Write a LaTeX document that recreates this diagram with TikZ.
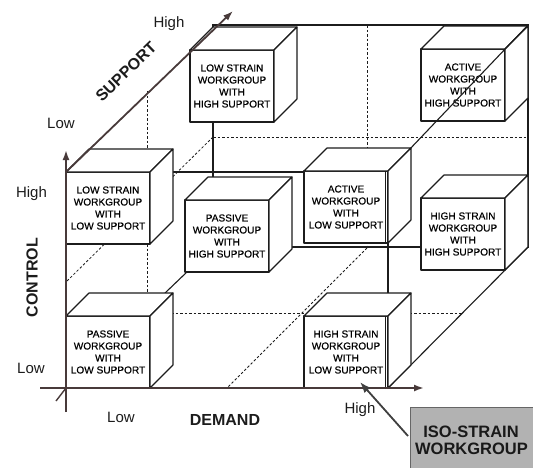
\documentclass[tikz,border=0pt]{standalone}
\usepackage{fontspec}
\setmainfont{Liberation Sans}
\newfontfamily\boxfont[FakeBold=0.5]{Liberation Sans}
\usetikzlibrary{arrows.meta,calc}
\definecolor{axiscol}{RGB}{72,58,58}
\definecolor{linecol}{RGB}{28,28,28}
\definecolor{isofill}{RGB}{178,178,178}
\newcommand\wgcube[4]{%
  \node[wgface, anchor=north west] (#1) at (#2,#3) {#4};
  \path[wgline, fill=white] (#1.north west) -- ++(23,-23) -- ($(#1.north east)+(23,-23)$) -- (#1.north east) -- cycle;
  \path[wgline, fill=white] (#1.north east) -- ++(23,-23) -- ($(#1.south east)+(23,-23)$) -- (#1.south east) -- cycle;
}
\begin{document}
\begin{tikzpicture}[x=1pt,y=-1pt,
  wgline/.style={draw=linecol, line width=1.1pt, line join=round},
  wgface/.style={wgline, fill=white, minimum width=84pt, minimum height=72pt,
    inner sep=0pt, outer sep=0pt, align=center,
    font=\boxfont\fontsize{10.1}{12}\selectfont, text=black},
  skel/.style={draw=linecol, line width=1.1pt},
  gridl/.style={draw=linecol, line width=0.8pt, dash pattern=on 2.5pt off 2pt},
  axis/.style={draw=axiscol, line width=1.8pt, -{Latex[length=10pt,width=7pt]}},
  ticklbl/.style={font=\fontsize{15}{18}\selectfont, anchor=base, text=linecol, inner sep=0pt},
  axlbl/.style={font=\fontsize{16}{19}\selectfont\bfseries, text=linecol, inner sep=0pt},
]
\clip (0,0) rectangle (533,467);
% cube corners
\coordinate (FTL) at (66,172);
\coordinate (FTR) at (388,172);
\coordinate (FBL) at (66,388);
\coordinate (FBR) at (388,388);
\coordinate (BTL) at (213,25);
\coordinate (BTR) at (528,25);
\coordinate (BBL) at (213,247);
\coordinate (BBR) at (528,247);
% skeleton
\draw[skel] (BTL) rectangle (BBR);
\draw[skel] (FTL) -- (FTR) -- (FBR);
\draw[skel] (FBL) -- (BBL);
\draw[skel] (FBR) -- (BBR);
% mid grid lines
\draw[gridl] (367,25) -- (367,248);
\draw[gridl] (213,137) -- (528,137);
\draw[gridl] (147,91) -- (147,310);
\draw[gridl] (213,137) -- (66,282);
\draw[gridl] (144,313) -- (463,313);
\draw[gridl] (367,248) -- (227,388);
% back boxes
\wgcube{lshs}{190}{50}{LOW STRAIN\\WORKGROUP\\WITH\\HIGH SUPPORT}
\wgcube{ahs}{421}{49}{ACTIVE\\WORKGROUP\\WITH\\HIGH SUPPORT}
\wgcube{phs}{185}{200}{PASSIVE\\WORKGROUP\\WITH\\HIGH SUPPORT}
\wgcube{hshs}{421}{198}{HIGH STRAIN\\WORKGROUP\\WITH\\HIGH SUPPORT}
% top-right edge, drawn over the back box
\draw[skel] (BTR) -- (FTR);
% front boxes
\wgcube{lsls}{66}{172}{LOW STRAIN\\WORKGROUP\\WITH\\LOW SUPPORT}
\wgcube{psls}{66}{316}{PASSIVE\\WORKGROUP\\WITH\\LOW SUPPORT}
\wgcube{hsls}{304}{316}{HIGH STRAIN\\WORKGROUP\\WITH\\LOW SUPPORT}
\wgcube{asls}{304}{171}{ACTIVE\\WORKGROUP\\WITH\\LOW SUPPORT}
\draw[linecol, line width=0.6pt] ([xshift=-2.5pt]hsls.north east) -- ([xshift=-2.5pt]hsls.south east);
\draw[linecol, line width=0.6pt] ([xshift=-2.5pt]asls.north east) -- ([xshift=-2.5pt]asls.south east);
% axes
\coordinate (O) at (66,388);
\draw[axis] (66,412) -- (66,150);
\draw[axis] (40,388) -- (424,388);
\draw[axis] (FTL) -- (233,11);
\draw[draw=axiscol, line width=1.4pt] (O) -- (56,401);
% axis labels
\node[ticklbl] (suphigh) at (169,27) {High};
\node[ticklbl] (suplow) at (61,128) {Low};
\node[ticklbl] (conhigh) at (31.5,197) {High};
\node[ticklbl] (conlow) at (31,373) {Low};
\node[ticklbl] (demlow) at (121,422) {Low};
\node[ticklbl] (demhigh) at (360,413) {High};
\node[axlbl, anchor=base] (demand) at (225,425) {DEMAND};
\node[axlbl, rotate=90] (control) at (32,277.5) {CONTROL};
\node[axlbl, rotate=44] (support) at (126,72) {SUPPORT};
% iso-strain box
\node[draw=black!60, line width=0.6pt, fill=isofill, anchor=north west,
      minimum width=130pt, minimum height=66pt, inner sep=0pt] (iso) at (410,407) {};
\node[font=\fontsize{16.5}{17}\selectfont\bfseries, anchor=base, text=black!90, inner sep=0pt] (isoa) at (471,437) {ISO-STRAIN};
\node[font=\fontsize{16.5}{17}\selectfont\bfseries, anchor=base, text=black!90, inner sep=0pt] (isob) at (471.5,454) {WORKGROUP};
\coordinate (isotail) at ($(iso.north west)+(-2,29)$);
\coordinate (isotip) at (360,382);
\draw[draw=black!75, line width=1.8pt, -{Latex[length=11pt,width=8pt]}] (isotail) -- (isotip);
\end{tikzpicture}
\end{document}
